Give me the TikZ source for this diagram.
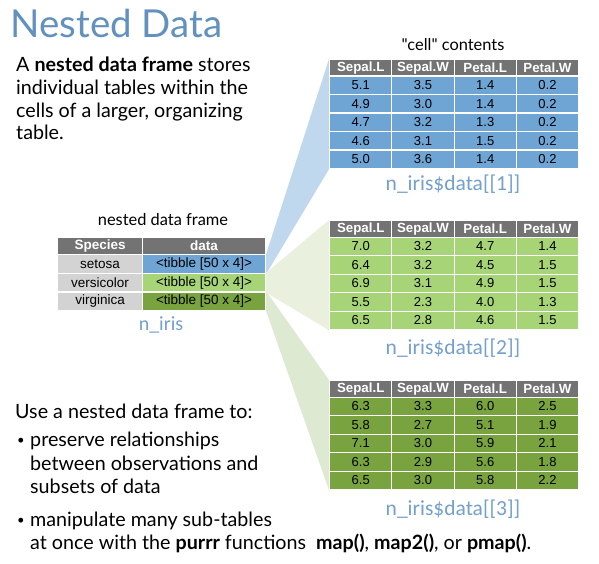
\documentclass[tikz,border=0pt]{standalone}
\usepackage{fontspec}
\setmainfont{Lato}[Ligatures=TeXOff]
\newfontfamily\arialf{Liberation Sans}
\newfontfamily\calf{Carlito}
\usetikzlibrary{backgrounds}
\definecolor{hdrC}{RGB}{115,115,115}
\definecolor{blueC}{RGB}{111,165,212}
\definecolor{lgreenC}{RGB}{168,212,120}
\definecolor{dgreenC}{RGB}{120,163,62}
\definecolor{grayC}{RGB}{211,211,211}
\definecolor{fanB}{RGB}{191,216,238}
\definecolor{fanGa}{RGB}{233,241,222}
\definecolor{fanGb}{RGB}{222,233,210}
\definecolor{titleC}{RGB}{98,145,190}
\definecolor{labelC}{RGB}{115,160,205}
\tikzset{
  cellbox/.style={draw=white, line width=1.2pt, inner sep=0pt, anchor=north west,
    minimum width=62.25pt, font=\arialf\fontsize{13}{13}\selectfont},
  hcell/.style={cellbox, fill=hdrC, text=white, minimum height=16.5pt,
    font=\arialf\bfseries\fontsize{13.3}{13.3}\selectfont},
  dcell/.style={cellbox, minimum height=18.5pt},
  lcell/.style={draw=white, line width=1.2pt, inner sep=0pt, anchor=north west,
    minimum height=18.7pt, font=\arialf\fontsize{13.5}{13.5}\selectfont},
  lhcell/.style={lcell, fill=hdrC, text=white, minimum height=17pt,
    font=\arialf\bfseries\fontsize{13.5}{13.5}\selectfont},
  labeltext/.style={text=labelC, font=\calf\fontsize{21.5}{21.5}\selectfont, inner sep=0pt},
  captext/.style={font=\fontsize{16.4}{16.4}\selectfont, inner sep=0pt},
  bodyline/.style={anchor=base west, inner sep=0pt, font=\fontsize{19.7}{23}\selectfont},
  bulletmark/.style={anchor=base west, inner sep=0pt, font=\fontsize{13}{13}\selectfont},
}
\newcommand\iristab[4]{%
  \foreach \h [count=\i] in {Sepal.L,Sepal.W,Petal.L,Petal.W}
    \node[hcell] (#1-h\i) at ({329+(\i-1)*62.25},#2) {\h};
  \foreach \a/\b/\c/\d [count=\r] in {#4} {
    \node[dcell,fill=#3] (#1-r\r-c1) at (329,{#2+16.5+(\r-1)*18.5}) {\a};
    \node[dcell,fill=#3] (#1-r\r-c2) at (391.25,{#2+16.5+(\r-1)*18.5}) {\b};
    \node[dcell,fill=#3] (#1-r\r-c3) at (453.5,{#2+16.5+(\r-1)*18.5}) {\c};
    \node[dcell,fill=#3] (#1-r\r-c4) at (515.75,{#2+16.5+(\r-1)*18.5}) {\d};
  }
}
\begin{document}
\begin{tikzpicture}[x=1pt,y=-1pt]
\useasboundingbox (0,0) rectangle (599,564);

% title
\node[anchor=base west, inner sep=0pt, text=titleC, font=\fontsize{38.5}{38.5}\selectfont] (title) at (10.5,38) {Nested Data};

% top paragraph
\node[bodyline] (p1) at (16,72) {A \textbf{nested data frame} stores};
\node[bodyline] (p2) at (16,95) {individual tables within the};
\node[bodyline] (p3) at (16,118) {cells of a larger, organizing};
\node[bodyline] (p4) at (16,140) {table.};

% left nested table
\node[lhcell, minimum width=85pt] (l-h1) at (57,237) {Species};
\node[lhcell, minimum width=123pt] (l-h2) at (142,237) {data};
\foreach \s/\f [count=\r] in {setosa/blueC, versicolor/lgreenC, virginica/dgreenC} {
  \node[lcell, fill=grayC, minimum width=85pt] (l-r\r-c1) at (57,{254+(\r-1)*18.7}) {\s};
  \node[lcell, fill=\f, minimum width=123pt] (l-r\r-c2) at (142,{254+(\r-1)*18.7}) {<tibble [50 x 4]>};
}
\node[captext] (ndf) at (163,220) {nested data frame};
\node[labeltext, font=\calf\fontsize{20}{20}\selectfont] (niris) at (161,325) {n\_iris};

% sub tables
\iristab{ta}{59}{blueC}{5.1/3.5/1.4/0.2, 4.9/3.0/1.4/0.2, 4.7/3.2/1.3/0.2, 4.6/3.1/1.5/0.2, 5.0/3.6/1.4/0.2}
\iristab{tb}{220}{lgreenC}{7.0/3.2/4.7/1.4, 6.4/3.2/4.5/1.5, 6.9/3.1/4.9/1.5, 5.5/2.3/4.0/1.3, 6.5/2.8/4.6/1.5}
\iristab{tc}{380}{dgreenC}{6.3/3.3/6.0/2.5, 5.8/2.7/5.1/1.9, 7.1/3.0/5.9/2.1, 6.3/2.9/5.6/1.8, 6.5/3.0/5.8/2.2}

\node[captext] (cellc) at (453,45) {"cell" contents};
\node[labeltext] (la) at (453,184) {n\_iris\$data[[1]]};
\node[labeltext] (lb) at (453,348) {n\_iris\$data[[2]]};
\node[labeltext] (lc) at (453,509) {n\_iris\$data[[3]]};

% fans
\begin{pgfonlayer}{background}
\fill[white] (0,0) rectangle (599,564);
\fill[fanB] (l-r1-c2.north east) -- (ta-h1.north west) -- (ta-r5-c1.south west) -- (l-r1-c2.south east) -- cycle;
\fill[fanGa] (l-r2-c2.north east) -- (tb-h1.north west) -- (tb-r5-c1.south west) -- (l-r2-c2.south east) -- cycle;
\fill[fanGb] (l-r3-c2.north east) -- (tc-h1.north west) -- (tc-r5-c1.south west) -- (l-r3-c2.south east) -- cycle;
\end{pgfonlayer}

% bottom text
\node[bodyline] (u1) at (15,418) {Use a nested data frame to:};
\node[bulletmark] (b1) at (17,444) {•};
\node[bodyline] (u2) at (30,446) {preserve relationships};
\node[bodyline] (u3) at (30,470) {between observations and};
\node[bodyline] (u4) at (30,493) {subsets of data};
\node[bulletmark] (b2) at (17,524) {•};
\node[bodyline] (u5) at (30,526) {manipulate many sub-tables};
\node[bodyline] (u6) at (30,549) {at once with the \textbf{purrr} functions\ \ \textbf{map()}, \textbf{map2()}, or \textbf{pmap()}.};
\end{tikzpicture}
\end{document}
